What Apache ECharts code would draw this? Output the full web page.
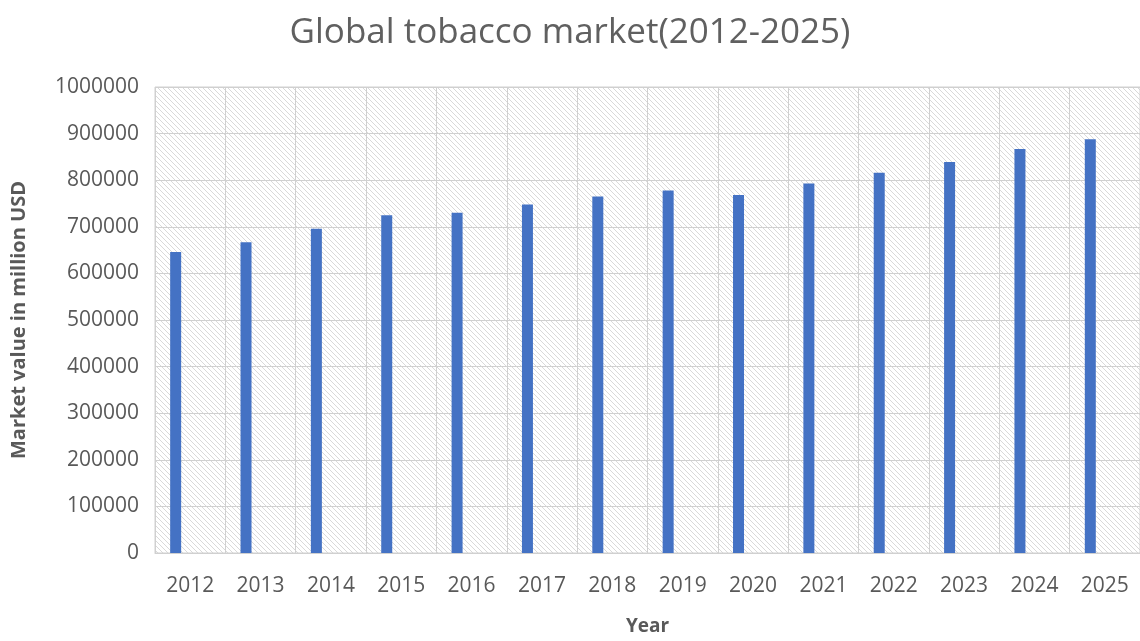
<!DOCTYPE html>
<html>
<head>
<meta charset="utf-8">
<script src="https://cdn.jsdelivr.net/npm/echarts@6/dist/echarts.min.js"></script>
<style>
html,body{margin:0;padding:0;background:#fff;}
#chart{width:1140px;height:641px;}
</style>
</head>
<body>
<div id="chart"></div>
<script>
const titleText = 'Global tobacco market(2012-2025)';
const years = ['2012','2013','2014','2015','2016','2017','2018','2019','2020','2021','2022','2023','2024','2025'];
const marketValue = [646000, 667000, 696000, 725000, 730000, 748000, 765000, 778000, 768000, 793000, 816000, 839000, 867000, 888000];
const yAxisTitle = 'Market value in million USD';
const xAxisTitle = 'Year';

// hatched plot-area background pattern
const pc = document.createElement('canvas');
pc.width = 5; pc.height = 5;
const ctx = pc.getContext('2d');
ctx.fillStyle = '#ffffff';
ctx.fillRect(0,0,5,5);
ctx.strokeStyle = '#d9d9d9';
ctx.lineWidth = 1;
ctx.beginPath();
for (let k = -5; k <= 10; k += 5) {
  ctx.moveTo(k, 0); ctx.lineTo(k + 5, 5);
}
ctx.stroke();

const chart = echarts.init(document.getElementById('chart'));
const font = '"Open Sans", "Liberation Sans", sans-serif';
chart.setOption({
  animation: false,
  backgroundColor: '#ffffff',
  title: {
    text: titleText,
    left: 'center',
    top: 11,
    textStyle: { color: '#606060', fontSize: 35, fontWeight: 'normal', fontFamily: font }
  },
  grid: {
    left: 155, top: 87, width: 987, height: 470,
    show: true,
    backgroundColor: { image: pc, repeat: 'repeat' },
    borderColor: '#d0d0d0', borderWidth: 1
  },
  xAxis: {
    type: 'category',
    data: years,
    name: xAxisTitle,
    nameLocation: 'middle',
    nameGap: 64,
    nameTextStyle: { color: '#595959', fontSize: 19, fontWeight: 'bold', fontFamily: font },
    axisLine: { show: true, lineStyle: { color: '#d0d0d0' } },
    axisTick: { show: false },
    axisLabel: { color: '#595959', fontSize: 21, margin: 23, fontFamily: font },
    splitLine: { show: true, lineStyle: { color: '#d0d0d0', width: 1 } }
  },
  yAxis: {
    type: 'value',
    min: 0, max: 1000000, interval: 100000,
    name: yAxisTitle,
    nameLocation: 'middle',
    nameGap: 126,
    nameTextStyle: { color: '#595959', fontSize: 20, fontWeight: 'bold', fontFamily: font },
    axisLine: { show: false },
    axisTick: { show: false },
    axisLabel: { color: '#595959', fontSize: 21, margin: 16, fontFamily: font, formatter: (v) => String(v) },
    splitLine: { show: true, lineStyle: { color: '#d0d0d0', width: 1 } }
  },
  series: [
    { type: 'bar', data: marketValue, barWidth: 11, barGap: '164%', itemStyle: { color: '#4472C4' } },
    { type: 'bar', data: years.map(() => null), barWidth: 11, itemStyle: { color: '#ED7D31' } }
  ]
});
</script>
</body>
</html>
